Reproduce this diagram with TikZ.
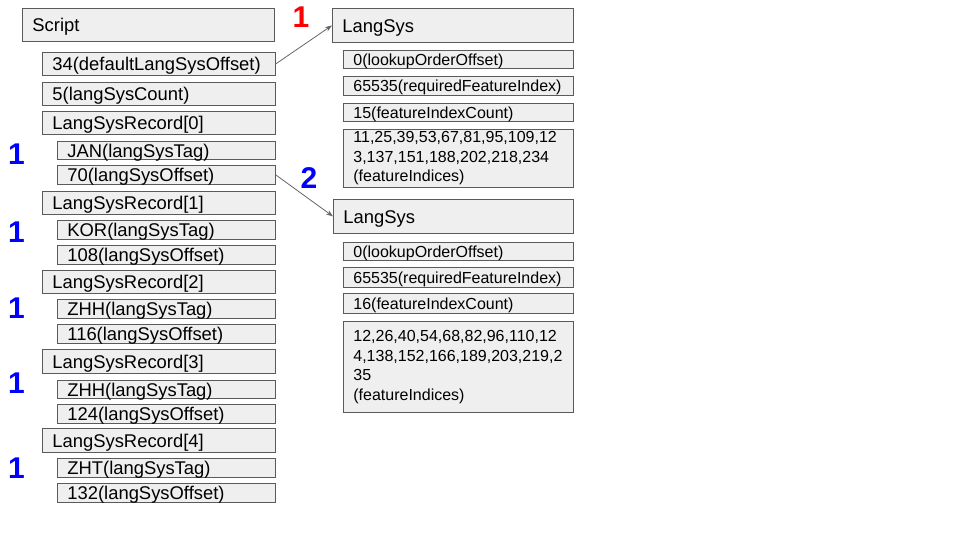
\documentclass[tikz,border=0pt]{standalone}
\usepackage{fontspec}
\setmainfont{Liberation Sans}
\usetikzlibrary{arrows.meta}
\hyphenpenalty=10000
\exhyphenpenalty=10000
\definecolor{boxfill}{HTML}{EFEFEF}
\definecolor{boxline}{HTML}{5A5A5A}
\definecolor{conncol}{HTML}{666666}
\definecolor{numblue}{HTML}{0000FF}
\definecolor{numred}{HTML}{FF0000}
\newcommand\bigf{\fontsize{18.4}{21}\selectfont}
\newcommand\smf{\fontsize{16}{19.5}\selectfont}
\newcommand\bx[7]{%
  \pgfmathsetmacro\bw{#4-#2}%
  \pgfmathsetmacro\bh{#5-#3}%
  \pgfmathsetmacro\tw{#4-#2-20}%
  \node[box, #6, minimum width=\bw pt, minimum height=\bh pt, text width=\tw pt,
        anchor=north west] (#1) at (#2,#3) {#7};}
\begin{document}
\begin{tikzpicture}[x=1pt,y=-1pt,
  box/.style={draw=boxline, fill=boxfill, line width=0.8pt, align=left,
              inner xsep=10pt, inner ysep=0pt, text=black},
  bigtext/.style={font=\bigf, text height=14pt, text depth=0pt},
  smalltext/.style={font=\smf, text height=12pt, text depth=0pt},
  multitext/.style={font=\smf},
  conn/.style={draw=conncol, line width=0.8pt, -{Stealth[length=7pt,width=5pt]}},
  num/.style={font=\fontsize{30}{30}\selectfont\bfseries, inner sep=0pt}]
\useasboundingbox[fill=white] (0,0) rectangle (960,540);
% left column
\bx{script}{22}{8}{274}{41}{bigtext}{Script}
\bx{def}{42}{52}{275}{75}{bigtext}{34(defaultLangSysOffset)}
\bx{cnt}{42}{82}{275}{105}{bigtext}{5(langSysCount)}
\bx{r0}{42}{111}{275}{134}{bigtext}{LangSysRecord[0]}
\bx{tag0}{57}{141}{275}{159}{bigtext}{JAN(langSysTag)}
\bx{off0}{57}{165}{275}{184}{bigtext}{70(langSysOffset)}
\bx{r1}{42}{191}{275}{214}{bigtext}{LangSysRecord[1]}
\bx{tag1}{57}{220}{275}{239}{bigtext}{KOR(langSysTag)}
\bx{off1}{57}{245}{275}{264}{bigtext}{108(langSysOffset)}
\bx{r2}{42}{270}{275}{293}{bigtext}{LangSysRecord[2]}
\bx{tag2}{57}{299}{275}{318}{bigtext}{ZHH(langSysTag)}
\bx{off2}{57}{324}{275}{343}{bigtext}{116(langSysOffset)}
\bx{r3}{42}{349}{275}{373}{bigtext}{LangSysRecord[3]}
\bx{tag3}{57}{380}{275}{398}{bigtext}{ZHH(langSysTag)}
\bx{off3}{57}{404}{275}{423}{bigtext}{124(langSysOffset)}
\bx{r4}{42}{428}{275}{452}{bigtext}{LangSysRecord[4]}
\bx{tag4}{57}{458}{275}{477}{bigtext}{ZHT(langSysTag)}
\bx{off4}{57}{483}{275}{502}{bigtext}{132(langSysOffset)}
% right column, first LangSys
\bx{ls1}{332}{8}{573}{42}{bigtext}{LangSys}
\bx{lo1}{343}{50}{573}{68}{smalltext}{0(lookupOrderOffset)}
\bx{rf1}{343}{76}{573}{95}{smalltext}{65535(requiredFeatureIndex)}
\bx{fc1}{343}{103}{573}{121}{smalltext}{15(featureIndexCount)}
\bx{fi1}{343}{129}{573}{187}{multitext}{11,25,39,53,67,81,95,109,12\\3,137,151,188,202,218,234\\(featureIndices)}
% second LangSys
\bx{ls2}{333}{199}{573}{233}{bigtext}{LangSys}
\bx{lo2}{343}{242}{573}{260}{smalltext}{0(lookupOrderOffset)}
\bx{rf2}{343}{267}{573}{287}{smalltext}{65535(requiredFeatureIndex)}
\bx{fc2}{343}{293}{573}{313}{smalltext}{16(featureIndexCount)}
\bx{fi2}{343}{321}{573}{412}{multitext}{12,26,40,54,68,82,96,110,12\\4,138,152,166,189,203,219,2\\35\\(featureIndices)}
% connectors
\draw[conn] (def.east) -- (ls1.west);
\draw[conn] (off0.east) -- (ls2.west);
% numbers
\node[num, text=numred] (n0) at (301,17.5) {1};
\node[num, text=numblue] (n2) at (309,178) {2};
\node[num, text=numblue] (na) at (16.5,154) {1};
\node[num, text=numblue] (nb) at (16.5,232.5) {1};
\node[num, text=numblue] (nc) at (16.5,308) {1};
\node[num, text=numblue] (nd) at (16.5,383) {1};
\node[num, text=numblue] (ne) at (16.5,468) {1};
\end{tikzpicture}
\end{document}
